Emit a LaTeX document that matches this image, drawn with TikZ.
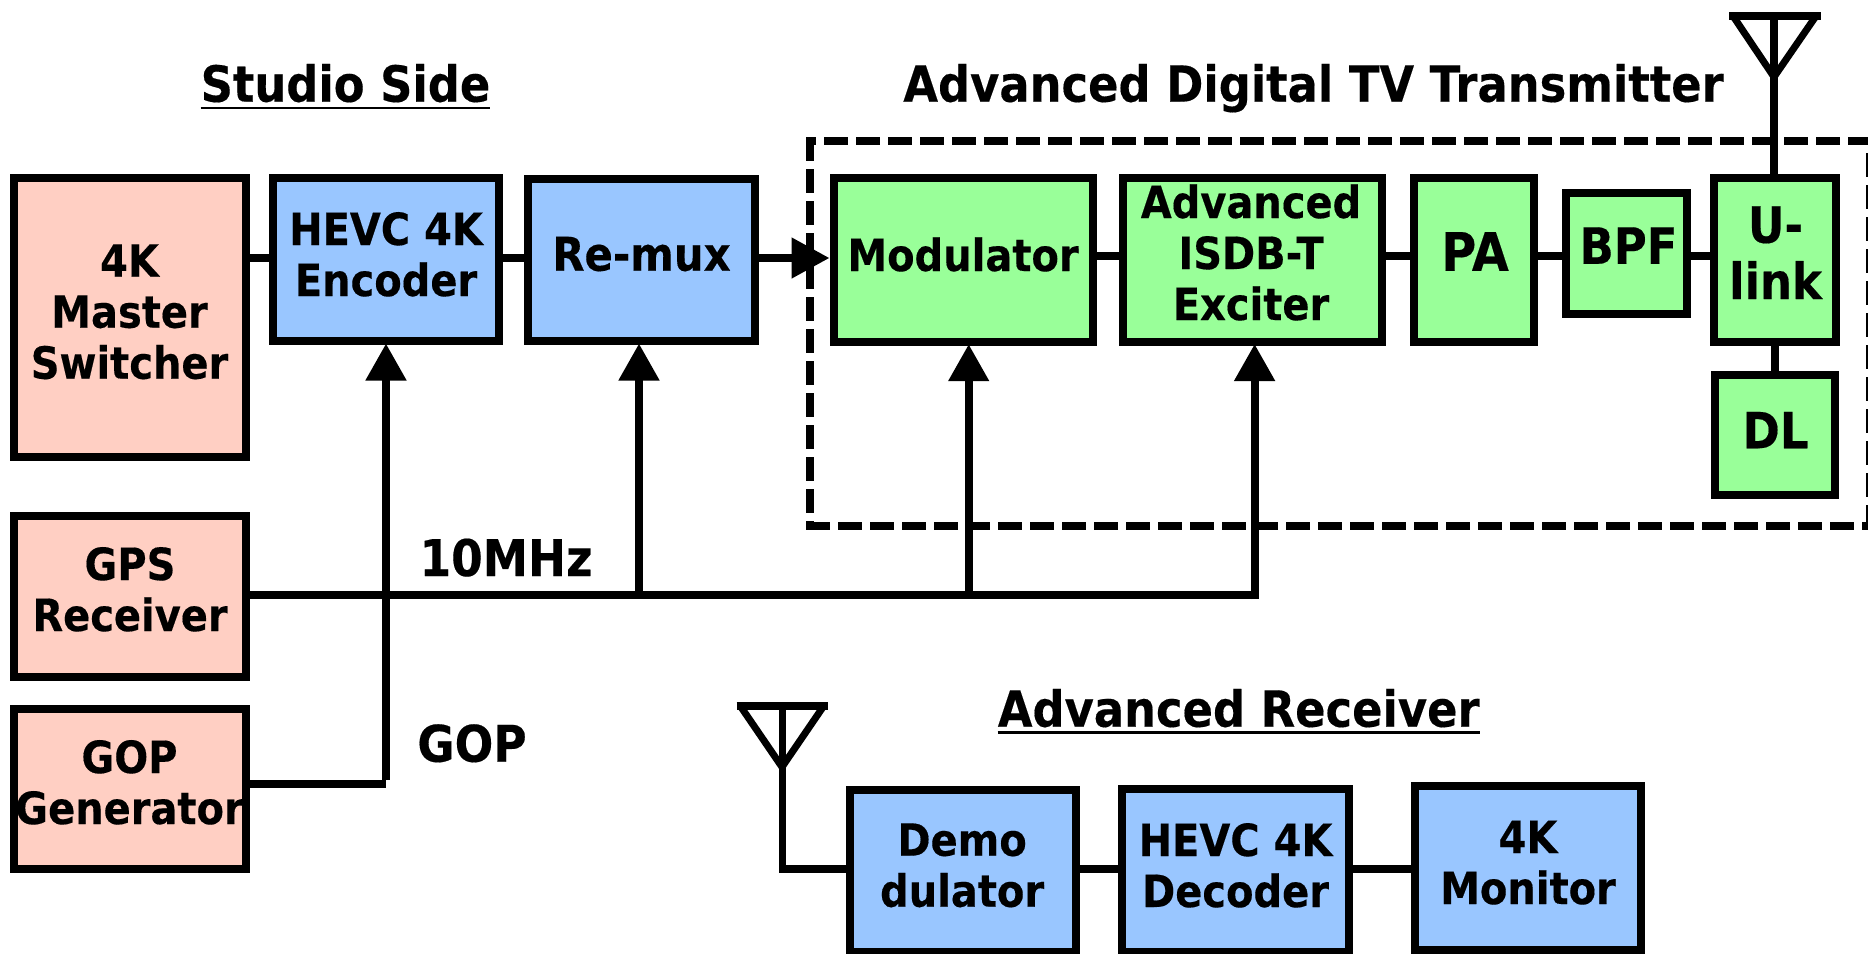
\documentclass[tikz,border=0pt]{standalone}
\usepackage{fontspec}
\setmainfont{DejaVu Sans}[BoldFeatures={FakeStretch=0.9,FakeBold=0.3}]
\usetikzlibrary{arrows.meta}
\definecolor{salmonfill}{HTML}{FFCFC3}
\definecolor{bluefill}{HTML}{99C6FF}
\definecolor{greenfill}{HTML}{99FF99}
\newcommand{\tx}[3]{\raisebox{#2pt}[0pt][0pt]{\makebox[0pt][c]{\hspace*{#1pt}\hspace*{#1pt}\begin{tabular}[t]{@{}c@{}}#3\end{tabular}}}}
\tikzset{
  blockbox/.style={draw=black,line width=8pt,inner sep=0pt,font=\fontsize{44.4}{51}\selectfont\bfseries},
  bigbox/.style={blockbox,font=\fontsize{50}{56.3}\selectfont\bfseries},
  pabox/.style={blockbox,font=\fontsize{53}{56.3}\selectfont\bfseries},
  muxbox/.style={blockbox,font=\fontsize{46.5}{51}\selectfont\bfseries},
  redbox/.style={fill=salmonfill},
  bluebox/.style={fill=bluefill},
  greenbox/.style={fill=greenfill},
  conn/.style={draw=black,line width=8pt},
  feed/.style={draw=black,line width=8pt,shorten >=-1.5pt,-{Triangle[length=37pt,width=39pt]}},
  dashline/.style={draw=black,line width=8pt,dash pattern=on 24pt off 8pt},
  antenna/.style={draw=black,line width=7pt,line join=miter},
  heading/.style={inner sep=0pt,anchor=base,font=\fontsize{49.8}{54}\selectfont\bfseries},
  sidelabel/.style={heading,font=\fontsize{50.5}{54}\selectfont\bfseries},
  underbar/.style={draw=black,line width=2.5pt}
}
\begin{document}
\begin{tikzpicture}[x=1pt,y=-1pt]
\useasboundingbox (0,0) rectangle (1868,953);
\clip (0,0) rectangle (1868,953);
\fill[white] (0,0) rectangle (1868,953);

% dashed transmitter frame
\draw[dashline] (810,137) -- (810,529);
\draw[dashline,dash phase=18pt] (810,141) -- (1872,141);
\draw[dashline] (806,525.5) -- (1872,525.5);
\draw[dashline] (1869.6,152.6) -- (1869.6,525);

% blocks
\node[blockbox,redbox,minimum width=232pt,minimum height=279pt] (master) at (130,317.5) {\tx{-0.5}{40.8}{4K\\Master\\Switcher}};
\node[blockbox,bluebox,minimum width=226pt,minimum height=163pt] (enc) at (386,259.5) {\tx{0}{14.5}{HEVC 4K\\Encoder}};
\node[muxbox,bluebox,minimum width=227pt,minimum height=162pt] (remux) at (641.5,260) {\tx{0}{-10.7}{Re-mux}};
\node[blockbox,greenbox,minimum width=259pt,minimum height=163.4pt] (mod) at (963,260) {\tx{0}{-11}{Modulator}};
\node[blockbox,greenbox,minimum width=259pt,minimum height=163.5pt] (exc) at (1252,259.75) {\tx{-1}{41.75}{Advanced\\ISDB-T\\Exciter}};
\node[pabox,greenbox,minimum width=120pt,minimum height=163.5pt] (pa) at (1474,259.75) {\tx{1}{-11}{PA}};
\node[bigbox,greenbox,minimum width=121pt,minimum height=121pt] (bpf) at (1626.5,253.5) {\tx{2}{-10.3}{BPF}};
\node[bigbox,greenbox,minimum width=121.6pt,minimum height=163.5pt] (ulink) at (1775,259.75) {\tx{0.5}{17}{U-\\link}};
\node[bigbox,greenbox,minimum width=120.6pt,minimum height=120.3pt] (dl) at (1775,434.8) {\tx{0.5}{-13.5}{DL}};
\node[blockbox,redbox,minimum width=232pt,minimum height=161pt] (gps) at (130,596.2) {\tx{0}{16.2}{GPS\\Receiver}};
\node[blockbox,redbox,minimum width=232pt,minimum height=160.3pt] (gop) at (130,788.85) {\tx{-0.5}{15.85}{GOP\\Generator}};
\node[blockbox,bluebox,minimum width=226pt,minimum height=162pt] (demod) at (962.6,871) {\tx{-0.5}{15.3}{Demo\\dulator}};
\node[blockbox,bluebox,minimum width=227pt,minimum height=163pt] (dec) at (1235.5,870.5) {\tx{0}{14.5}{HEVC 4K\\Decoder}};
\node[blockbox,bluebox,minimum width=226pt,minimum height=164pt] (mon) at (1528,868) {\tx{0}{15}{4K\\Monitor}};

% headings
\node[heading] (studio) at (345.5,101.7) {Studio Side};
\node[heading] (txtitle) at (1313.5,101.7) {Advanced Digital TV Transmitter};
\node[heading] (rxtitle) at (1238.7,726.7) {Advanced Receiver};
\node[sidelabel] (mhz) at (506,576) {10MHz};
\node[sidelabel] (goplabel) at (472,761.7) {GOP};
\draw[underbar] ([yshift=-6.5pt]studio.base west) -- ([yshift=-6.5pt]studio.base east);
\draw[underbar] ([yshift=-6pt]rxtitle.base west) -- ([yshift=-6pt]rxtitle.base east);

% reference levels and junctions
\coordinate (top) at (0,258);
\coordinate (mid) at (0,255.5);
\coordinate (bus) at (0,595);
\coordinate (gopy) at (0,784);
\coordinate (rx) at (0,869);
\coordinate (busend) at (1254.6,595);
\coordinate (remuxin) at (639,345);
\coordinate (modin) at (968.7,345.7);
\coordinate (txapex) at (1774,77);
\coordinate (txleft) at (1733,16);
\coordinate (txright) at (1816,16);
\coordinate (txbarl) at (1729,15.5);
\coordinate (txbarr) at (1821,15.5);
\coordinate (rxapex) at (782,767);
\coordinate (rxleft) at (741,707);
\coordinate (rxright) at (823,707);
\coordinate (rxbarl) at (736.5,706);
\coordinate (rxbarr) at (828,706);

% connectors
\draw[conn] (master.east |- top) -- (enc.west |- top);
\draw[conn] (enc.east |- top) -- (remux.west |- top);
\draw[conn,-{Triangle[length=38pt,width=39pt]}] (remux.east |- top) -- (mod.west |- top);
\draw[conn] (mod.east |- mid) -- (exc.west |- mid);
\draw[conn] (exc.east |- mid) -- (pa.west |- mid);
\draw[conn] (pa.east |- mid) -- (bpf.west |- mid);
\draw[conn] (bpf.east |- mid) -- (ulink.west |- mid);
\draw[conn] (ulink.south) -- (dl.north);
\draw[conn] (gps.east |- bus) -- (busend);
\draw[conn] (gop.east |- gopy) -- (enc.south |- gopy);
\draw[feed] ([yshift=4pt]enc.south |- gopy) -- (enc.south);
\draw[feed] ([yshift=4pt]remuxin |- bus) -- (remuxin);
\draw[feed] ([yshift=4pt]modin |- bus) -- (modin);
\draw[feed] ([yshift=-4pt]busend) -- (busend |- exc.south);
\draw[conn] (demod.east |- rx) -- (dec.west |- rx);
\draw[conn] (dec.east |- rx) -- (mon.west |- rx);

% antennas
\draw[antenna,line width=8pt] (txbarl) -- (txbarr);
\draw[antenna] (txleft) -- (txapex) -- (txright);
\draw[antenna,line width=8pt] (1774,15.5) -- (ulink.north -| 1774,0);
\draw[antenna,line width=8pt] (rxbarl) -- (rxbarr);
\draw[antenna] (rxleft) -- (rxapex) -- (rxright);
\draw[antenna] (782,706) -- (782,873);
\draw[conn] (782,869) -- (demod.west |- rx);
\end{tikzpicture}
\end{document}
